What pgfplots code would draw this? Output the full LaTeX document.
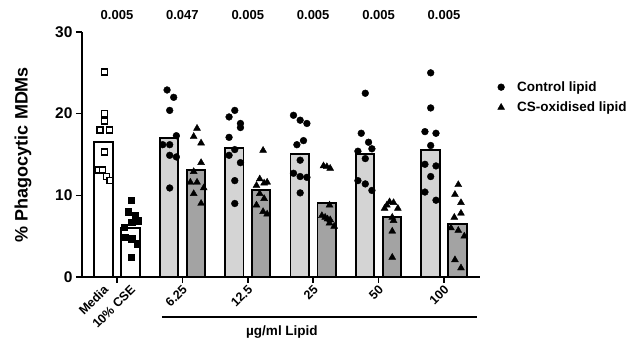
\documentclass[border=0pt]{standalone}
\usepackage{fontspec}
\setmainfont{Liberation Sans}
\usepackage{pgfplots}
\pgfplotsset{compat=1.18}
\definecolor{ctrl}{RGB}{212,212,212}
\definecolor{oxid}{RGB}{163,163,163}
\begin{document}
\begin{tikzpicture}
\useasboundingbox (-82pt,-62pt) rectangle (550pt,277pt);
\begin{axis}[
 scale only axis, width=398pt, height=245pt,
 xmin=-0.535, xmax=5.551, ymin=0, ymax=30,
 axis x line=bottom, axis y line=left,
 axis line style={-, line width=1.8pt},
 tick align=outside, major tick length=6pt,
 tick style={black, line width=1.6pt},
 ytick={0,10,20,30},
 xtick={0,1,2,3,4,5},
 xticklabels={,6.25,12.5,25,50,100},
 extra x ticks={-0.206,0.206},
 extra x tick labels={Media,10\% CSE},
 extra x tick style={tick style={draw=none}},
 xticklabel style={rotate=45, anchor=east, xshift=2pt, yshift=-5pt, font=\fontsize{12.5}{14}\selectfont\bfseries},
 yticklabel style={font=\fontsize{15.5}{18}\selectfont\bfseries},
 /pgf/number format/assume math mode=true,
 ylabel={\% Phagocytic MDMs},
 every axis y label/.style={at={(axis description cs:0,0.5)}, xshift=-59pt, rotate=90, anchor=center, font=\fontsize{18}{21}\selectfont\bfseries},
 clip=false,
 legend style={at={(1.025,0.815)}, anchor=north west, draw=none, fill=none, font=\fontsize{13.5}{16}\selectfont\bfseries, row sep=5pt},
 legend cell align=left,
 legend image code/.code={\path[draw=none, fill=none] (0pt,-3pt) rectangle (22pt,3pt); \draw[#1] plot coordinates {(8pt,0pt)};},
]
% bars
\addplot[ybar, bar width=0.28, bar shift=0pt, fill=white, draw=black, line width=1.9pt, forget plot] coordinates {(-0.206,16.5) (0.206,6.05)};
\addplot[ybar, bar width=0.28, bar shift=0pt, fill=ctrl, draw=black, line width=1.9pt, forget plot] coordinates {(0.794,17.05) (1.794,15.8) (2.794,15.1) (3.794,15.1) (4.794,15.6)};
\addplot[ybar, bar width=0.28, bar shift=0pt, fill=oxid, draw=black, line width=1.9pt, forget plot] coordinates {(1.206,13.1) (2.206,10.6) (3.206,9.1) (4.206,7.4) (5.206,6.45)};
% Media (open squares)
\addplot[only marks, mark=square*, mark size=3pt, mark options={fill=white, draw=black, line width=1.2pt}, forget plot] coordinates {
(-0.194,25.1) (-0.194,20.0) (-0.194,19.1) (-0.26,18.0) (-0.118,18.0) (-0.194,15.3) (-0.285,13.1) (-0.219,13.1) (-0.158,12.3) (-0.107,11.8)};
% 10% CSE (filled squares)
\addplot[only marks, mark=square*, mark size=3.2pt, mark options={fill=black, draw=black}, forget plot] coordinates {
(0.214,9.4) (0.173,8.0) (0.275,7.6) (0.326,6.9) (0.224,6.7) (0.112,6.1) (0.122,4.9) (0.224,4.7) (0.311,4.1) (0.214,2.4)};
% Control lipid
\addplot[only marks, mark=*, mark size=3.4pt, mark options={fill=black, draw=black}] coordinates {
(0.766,22.9) (0.867,22.0) (0.806,20.4) (0.908,17.3) (0.699,16.2) (0.806,16.2) (0.806,14.9) (0.908,14.7) (0.806,10.9)
(1.714,19.6) (1.801,20.4) (1.888,18.8) (1.888,18.3) (1.714,17.1) (1.801,15.6) (1.714,14.9) (1.888,14.0) (1.801,11.8) (1.801,9.0)
(2.699,19.8) (2.801,19.2) (2.904,18.8) (2.852,16.7) (2.751,16.2) (2.801,14.3) (2.699,12.7) (2.801,12.3) (2.904,12.2) (2.801,10.3)
(3.797,22.5) (3.735,17.6) (3.847,16.5) (3.898,15.7) (3.684,15.4) (3.797,14.5) (3.684,11.8) (3.797,11.4) (3.898,10.6)
(4.797,25.0) (4.797,20.7) (4.709,17.8) (4.878,17.6) (4.797,16.1) (4.709,13.8) (4.878,13.6) (4.797,12.3) (4.709,10.4) (4.878,9.4)};
\addlegendentry{Control lipid}
% CS-oxidised lipid
\addplot[only marks, mark=triangle*, mark size=4pt, mark options={fill=black, draw=black}] coordinates {
(1.224,18.2) (1.173,17.2) (1.286,16.4) (1.286,14.0) (1.173,12.9) (1.122,11.6) (1.224,11.6) (1.326,10.9) (1.173,10.2) (1.286,9.0)
(2.234,15.5) (2.183,12.0) (2.296,11.6) (2.25,11.5) (2.133,11.2) (2.183,10.2) (2.25,9.6) (2.133,8.8) (2.234,8.0) (2.296,7.7)
(3.158,13.6) (3.209,13.5) (3.26,13.3) (3.25,8.8) (3.133,7.5) (3.183,7.3) (3.219,7.1) (3.26,7.0) (3.25,6.6) (3.321,6.2)
(4.092,8.4) (4.168,9.2) (4.229,9.1) (4.295,8.4) (4.127,8.8) (4.209,7.3) (4.229,6.9) (4.209,5.6) (4.209,2.4)
(5.219,11.3) (5.168,10.1) (5.26,9.1) (5.26,7.8) (5.158,7.3) (5.107,6.0) (5.219,5.7) (5.311,5.0) (5.168,2.1) (5.26,1.1)};
\addlegendentry{CS-oxidised lipid}
% p-values
\node[font=\fontsize{13}{15}\selectfont\bfseries, yshift=17pt] at (axis cs:0,30) {0.005};
\node[font=\fontsize{13}{15}\selectfont\bfseries, yshift=17pt] at (axis cs:1,30) {0.047};
\node[font=\fontsize{13}{15}\selectfont\bfseries, yshift=17pt] at (axis cs:2,30) {0.005};
\node[font=\fontsize{13}{15}\selectfont\bfseries, yshift=17pt] at (axis cs:3,30) {0.005};
\node[font=\fontsize{13}{15}\selectfont\bfseries, yshift=17pt] at (axis cs:4,30) {0.005};
\node[font=\fontsize{13}{15}\selectfont\bfseries, yshift=17pt] at (axis cs:5,30) {0.005};
% lipid bracket
\draw[line width=2pt] ([yshift=-40pt]axis cs:0.688,0) -- ([yshift=-40pt]axis cs:5.505,0);
\node[font=\fontsize{13.5}{16}\selectfont\bfseries] at ([yshift=-55pt]axis cs:2.523,0) {µg/ml Lipid};
\end{axis}
\end{tikzpicture}
\end{document}
